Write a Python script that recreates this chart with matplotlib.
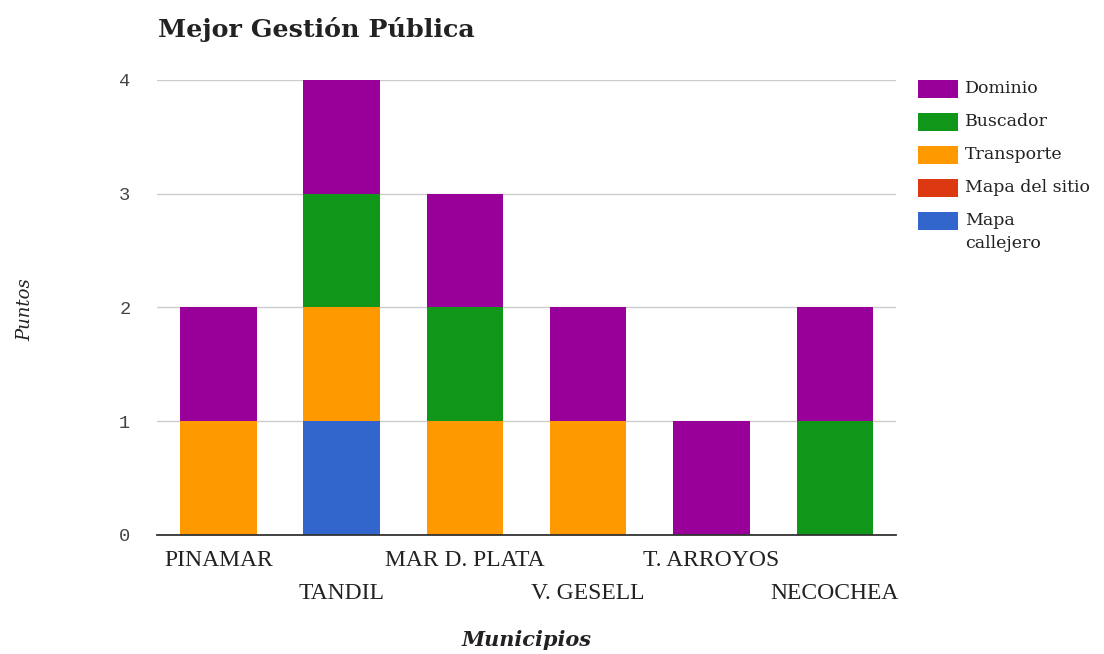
import matplotlib.pyplot as plt
from matplotlib.patches import Rectangle
import numpy as np

# Datos
municipios = ["PINAMAR", "TANDIL", "MAR D. PLATA", "V. GESELL", "T. ARROYOS", "NECOCHEA"]
mapa_callejero = [0, 1, 0, 0, 0, 0]
mapa_sitio = [0, 0, 0, 0, 0, 0]
transporte = [1, 1, 1, 1, 0, 0]
buscador = [0, 1, 1, 0, 0, 1]
dominio = [1, 1, 1, 1, 1, 1]

series = [("Mapa\ncallejero", mapa_callejero, "#3366cc"),
          ("Mapa del sitio", mapa_sitio, "#dc3912"),
          ("Transporte", transporte, "#ff9900"),
          ("Buscador", buscador, "#109618"),
          ("Dominio", dominio, "#990099")]

W, H = 1104, 654
fig = plt.figure(figsize=(W / 100, H / 100), dpi=100)
ax = fig.add_axes([0.142, 0.182, 0.670, 0.696])

x = np.arange(len(municipios))
bottom = np.zeros(len(municipios))
for name, vals, color in series:
    ax.bar(x, vals, bottom=bottom, width=0.62, color=color, zorder=3)
    bottom += np.array(vals)

ax.set_xlim(-0.5, len(municipios) - 0.5)
ax.set_ylim(0, 4)
ax.set_yticks([0, 1, 2, 3, 4])
ax.grid(axis="y", color="#cccccc", linewidth=1, zorder=0)
for s in ["top", "right", "left"]:
    ax.spines[s].set_visible(False)
ax.spines["bottom"].set_color("#333333")
ax.spines["bottom"].set_linewidth(1.3)
ax.spines["bottom"].set_zorder(4)
ax.tick_params(axis="both", length=0)
ax.tick_params(axis="y", pad=19)
for lab in ax.get_yticklabels():
    lab.set_fontfamily("Liberation Mono")
    lab.set_fontsize(13.5)
    lab.set_color("#444444")

# etiquetas alternadas en dos filas
ax.set_xticks(x)
ax.set_xticklabels([])
for i, m in enumerate(municipios):
    yoff = -0.055 if i % 2 == 0 else -0.128
    ax.text(i, yoff, m, transform=ax.get_xaxis_transform(), ha="center", va="center",
            fontfamily="Liberation Serif", fontsize=17, color="#222222")

fig.text(158 / W, 1 - 30 / H, "Mejor Gestión Pública", fontfamily="DejaVu Serif",
         fontweight="bold", fontsize=18.3, color="#222222", va="center")
fig.text(25 / W, 1 - 310 / H, "Puntos", rotation=90, fontfamily="DejaVu Serif",
         fontstyle="italic", fontsize=13, color="#222222", va="center", ha="center")
fig.text(527 / W, 1 - 640 / H, "Municipios", fontfamily="DejaVu Serif", fontstyle="italic",
         fontweight="bold", fontsize=15, color="#222222", va="center", ha="center")

# leyenda
y0, step = 89, 33
for k, (name, vals, color) in enumerate(series[::-1]):
    yc = y0 + k * step
    fig.patches.append(Rectangle((918 / W, 1 - (yc + 9) / H), 40 / W, 18 / H,
                                 facecolor=color, transform=fig.transFigure, figure=fig))
    fig.text(965 / W, 1 - (yc - 9) / H, name, fontfamily="DejaVu Serif", fontsize=12.5,
             color="#222222", va="top", ha="left", linespacing=1.5)

plt.savefig("out.png", dpi=100)
